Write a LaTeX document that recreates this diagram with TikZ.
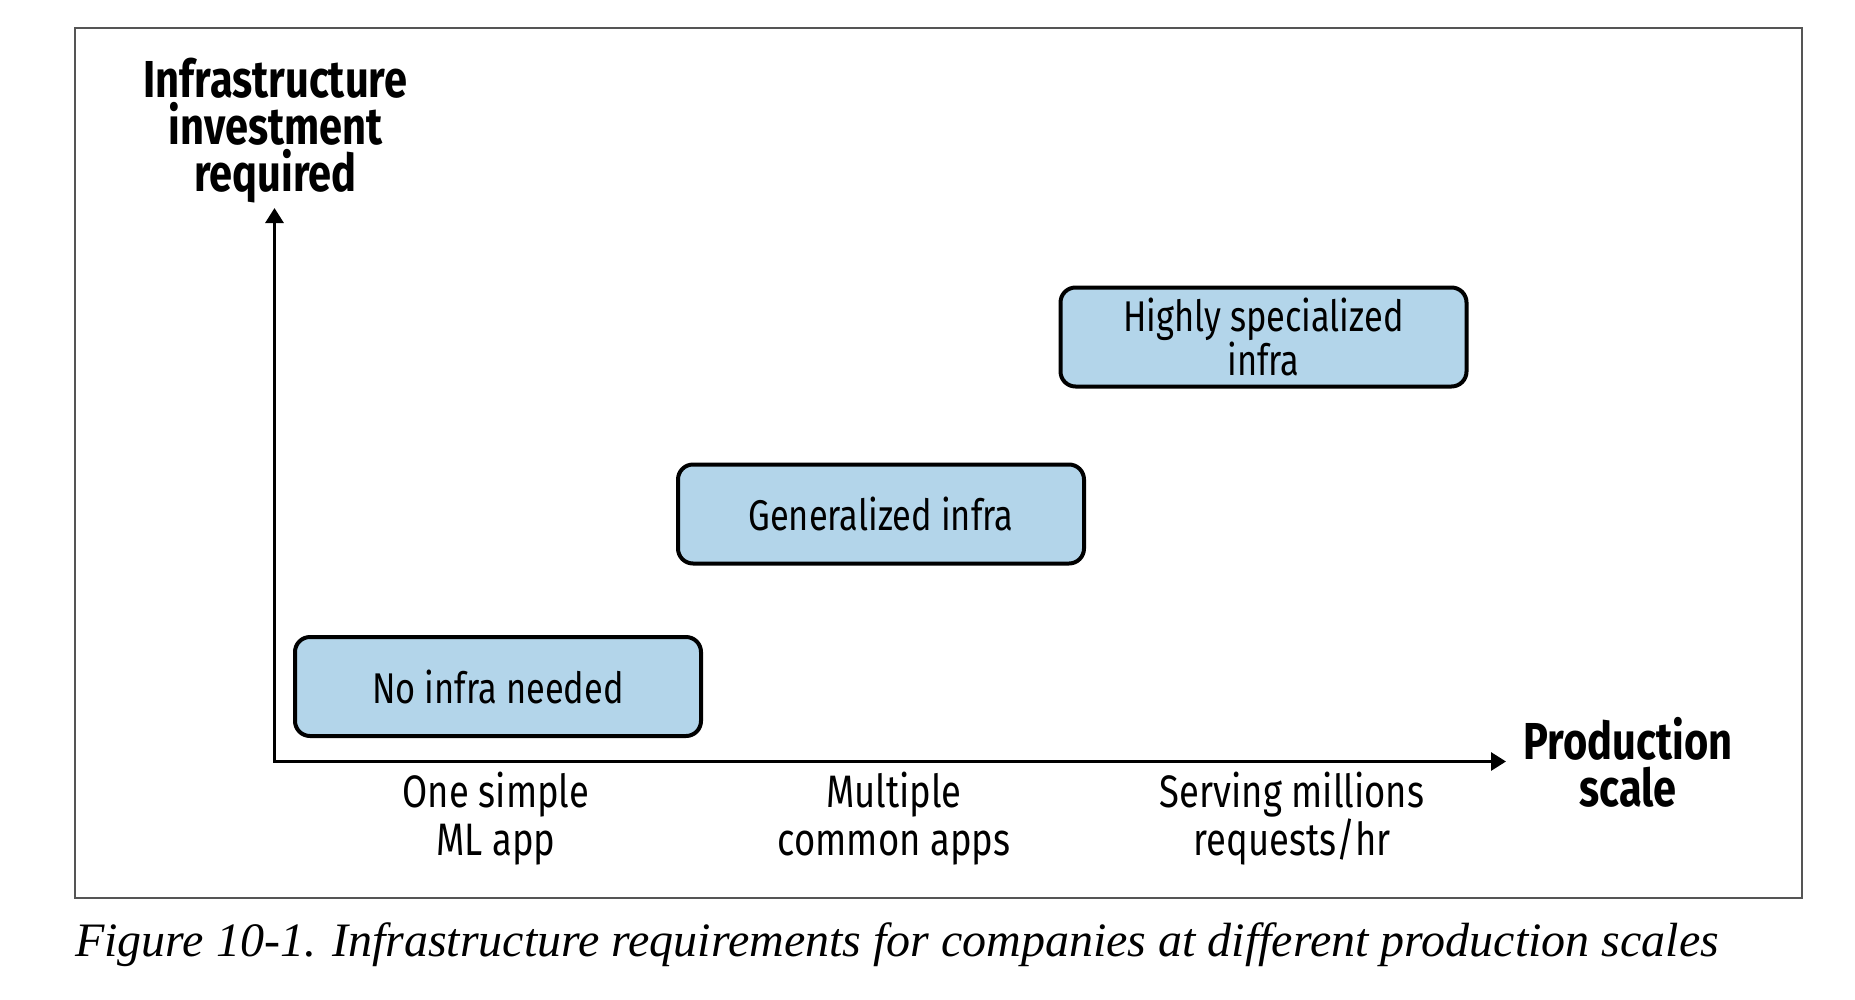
\documentclass[tikz,border=0pt]{standalone}
\usepackage{fontspec}
\usetikzlibrary{arrows.meta}
\newfontfamily\condfont[FakeStretch=0.8]{Fira Sans}
\newfontfamily\capfont{Liberation Serif}
\definecolor{boxblue}{HTML}{B3D5EA}
\definecolor{framegray}{HTML}{555555}
\tikzset{
  box/.style={draw=black, line width=4pt, rounded corners=15pt, fill=boxblue,
    minimum width=406pt, minimum height=99pt, inner sep=0pt, align=center,
    font=\condfont\fontsize{43}{41}\selectfont},
  axislabel/.style={inner sep=0pt, align=center, anchor=base,
    font=\condfont\bfseries\fontsize{52}{47}\selectfont},
  ticklabel/.style={inner sep=0pt, align=center, anchor=base,
    font=\condfont\fontsize{45.5}{48}\selectfont},
  axisline/.style={line width=3pt, {Triangle[width=18pt,length=15pt]}-{Triangle[width=18pt,length=15pt]}},
  framebox/.style={draw=framegray, line width=1.5pt}
}
\begin{document}
\begin{tikzpicture}[x=1pt,y=-1pt]
\useasboundingbox (0,0) rectangle (1855,999);
\fill[white] (0,0) rectangle (1855,999);
\draw[framebox] (75,28) rectangle (1802,898);

\coordinate (o) at (274.5,761.5);
\coordinate (ytip) at (274.5,208);
\coordinate (xtip) at (1506,761.5);
\draw[axisline] (ytip) -- (o) -- (xtip);

\node[box] (b1) at (498,686.5) {No infra needed};
\node[box] (b2) at (881,514) {Generalized infra};
\node[box] (b3) at (1263.5,337) {Highly specialized\\infra};

\node[axislabel] (ylab) at (275.5,191) {Infrastructure\\investment\\required};
\node[axislabel] (xlab) at (1628,806) {Production\\scale};

\node[ticklabel] (t1) at (496,855) {One simple\\ML app};
\node[ticklabel] (t2) at (894,855) {Multiple\\common apps};
\node[ticklabel] (t3) at (1292,855) {Serving millions\\requests/hr};

\node[inner sep=0pt, anchor=base west, font=\capfont\itshape\fontsize{48}{48}\selectfont] (cap) at (75,956)
  {Figure 10-1. Infrastructure requirements for companies at different production scales};
\end{tikzpicture}
\end{document}
